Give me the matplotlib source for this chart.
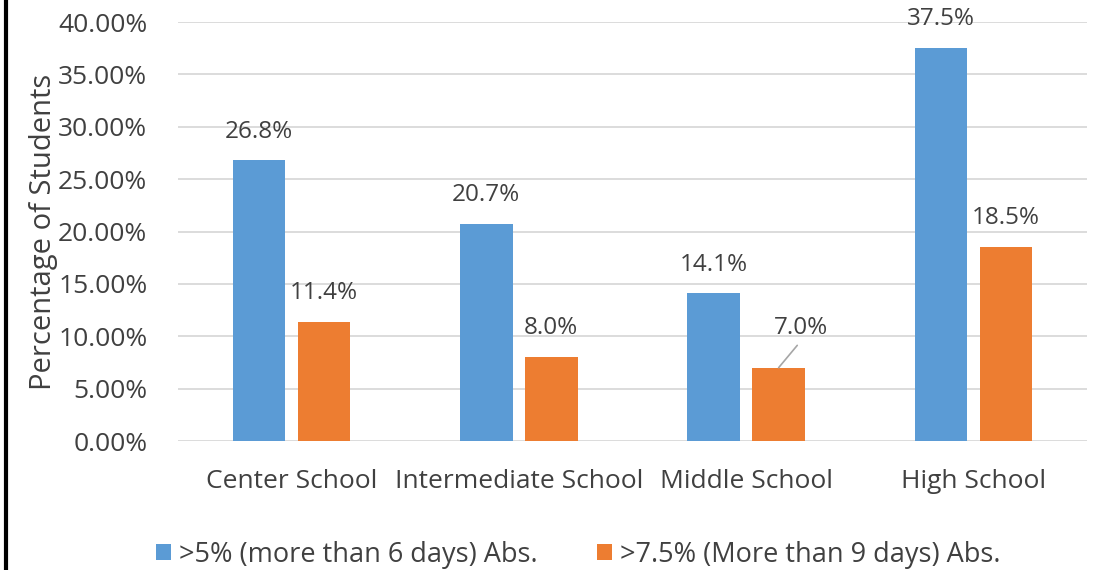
import matplotlib.pyplot as plt
import numpy as np
from matplotlib.lines import Line2D
from matplotlib.ticker import FuncFormatter

plt.rcParams['font.family'] = ['Open Sans', 'DejaVu Sans']

categories = ['Center School', 'Intermediate School', 'Middle School', 'High School']
above_5 = [26.8, 20.7, 14.1, 37.5]
above_75 = [11.4, 8.0, 7.0, 18.5]
series_names = ['>5% (more than 6 days) Abs.', '>7.5% (More than 9 days) Abs.']
yticks = [0, 5, 10, 15, 20, 25, 30, 35, 40]

blue = '#5B9BD5'
orange = '#ED7D31'
txt = '#404040'

fig = plt.figure(figsize=(11, 5.7), dpi=100)
ax = fig.add_axes([0.1618, 0.2263, 0.8264, 0.7351])

x = np.arange(len(categories))
w = 0.23
off = 0.143
b1 = ax.bar(x - off, above_5, w, color=blue, label=series_names[0], zorder=3)
b2 = ax.bar(x + off, above_75, w, color=orange, label=series_names[1], zorder=3)

fs = 17.5
for xi, v in zip(x - off, above_5):
    ax.text(xi, v + 1.6, f'{v:.1f}%', ha='center', va='bottom', fontsize=fs, color=txt)
for i, (xi, v) in enumerate(zip(x + off, above_75)):
    if i == 2:
        # label pulled off the bar with a leader line
        ax.annotate(f'{v:.1f}%', xy=(xi, v), xytext=(xi + 0.1, v + 2.6),
                    ha='center', va='bottom', fontsize=fs, color=txt,
                    arrowprops=dict(arrowstyle='-', color='#A6A6A6', lw=1.2,
                                    shrinkA=2, shrinkB=0, relpos=(0.5, 0)))
    else:
        ax.text(xi, v + 1.6, f'{v:.1f}%', ha='center', va='bottom', fontsize=fs, color=txt)

ax.set_xlim(-0.5, len(categories) - 0.5)
ax.set_ylim(0, 40)
ax.set_yticks(yticks)
ax.yaxis.set_major_formatter(FuncFormatter(lambda v, p: f'{v:.2f}%'))
ax.set_xticks(x)
ax.set_xticklabels(categories)
ax.tick_params(axis='both', length=0, labelsize=19, colors=txt)
ax.tick_params(axis='x', pad=20)
ax.tick_params(axis='y', pad=22)
ax.grid(axis='y', color='#D9D9D9', lw=1.3, zorder=0)
for s in ax.spines.values():
    s.set_visible(False)
ax.set_ylabel('Percentage of Students', fontsize=21, color=txt, labelpad=0)

fig.legend(handles=[b1, b2], loc='center', bbox_to_anchor=(0.526, 0.027), ncol=2,
           frameon=False, fontsize=19.5, labelcolor=txt, handlelength=0.55,
           handleheight=0.55, handletextpad=0.3, columnspacing=2.2)

fig.add_artist(Line2D([0.0055, 0.0055], [0, 1], transform=fig.transFigure,
                      color='black', lw=3))

fig.savefig('out.png', dpi=100)
